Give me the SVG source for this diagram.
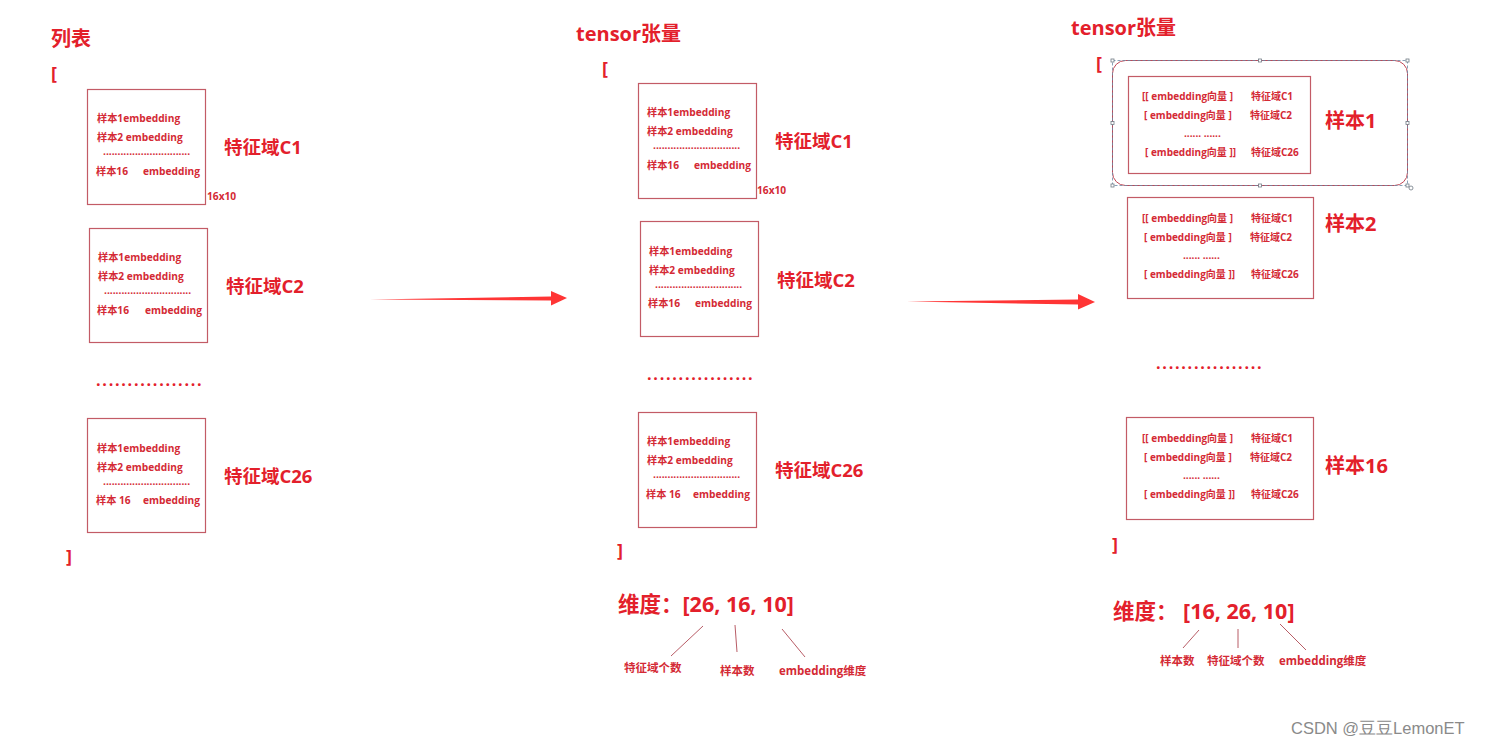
<svg xmlns="http://www.w3.org/2000/svg" width="1491" height="745" viewBox="0 0 1491 745">
<style>
text{font-family:"Open Sans","Noto Sans CJK SC",sans-serif;font-weight:bold;fill:#e3202b}
.title{font-size:20px}
.br{font-size:18px;font-weight:bold}
.lbl{font-size:18.5px}
.s{font-size:10.2px;fill:#d42a35}
.s2{font-size:10px;fill:#d42a35}
.dim{font-size:21.5px}
.ann{font-size:11.5px;fill:#d42a35}
.box{fill:#fff;stroke:#c35b66;stroke-width:1.2}
.dots{font-size:16px;letter-spacing:1.75px}
.wm{font-family:"Liberation Sans",sans-serif;font-weight:normal;font-size:16.5px;fill:#8a8a8a}
.ptr{stroke:#b04a55;stroke-width:0.9;fill:none}
.arr{fill:#ff3535}
.hdl{fill:#fff;stroke:#707a84;stroke-width:0.8}
</style>
<rect width="1491" height="745" fill="#fff"/>

<!-- Left column: list -->
<g id="left-title"><text class="title" x="51" y="46">列表</text><text class="br" x="51" y="80">[</text><text class="br" x="66" y="563">]</text></g>
<g id="left-c1">
<rect class="box" x="87.5" y="89.5" width="118" height="115"/>
<text class="s" x="97" y="122">样本1embedding</text>
<text class="s" x="97" y="141">样本2 embedding</text>
<text class="s" x="103" y="155">..............................</text>
<text class="s" x="96" y="175">样本16<tspan x="143">embedding</tspan></text>
<text class="lbl" x="224" y="154">特征域C1</text>
<text class="s" x="207" y="200">16x10</text>
</g>
<g id="left-c2">
<rect class="box" x="89.5" y="228.5" width="118" height="114"/>
<text class="s" x="98" y="261">样本1embedding</text>
<text class="s" x="98" y="280">样本2 embedding</text>
<text class="s" x="104" y="294">..............................</text>
<text class="s" x="97" y="314">样本16<tspan x="145">embedding</tspan></text>
<text class="lbl" x="226" y="293">特征域C2</text>
</g>
<g id="left-dots"><text class="dots" x="96" y="386">.................</text></g>
<g id="left-c26">
<rect class="box" x="87.5" y="418.5" width="118" height="114"/>
<text class="s" x="97" y="452">样本1embedding</text>
<text class="s" x="97" y="471">样本2 embedding</text>
<text class="s" x="103" y="485">..............................</text>
<text class="s" x="96" y="504">样本 16<tspan x="143">embedding</tspan></text>
<text class="lbl" x="224" y="483">特征域C26</text>
</g>

<!-- Middle column -->
<g id="mid-title"><text class="title" x="576" y="41">tensor张量</text><text class="br" x="602" y="75">[</text><text class="br" x="617" y="557">]</text></g>
<g id="mid-c1">
<rect class="box" x="638.5" y="83.5" width="118" height="115"/>
<text class="s" x="647" y="116">样本1embedding</text>
<text class="s" x="647" y="135">样本2 embedding</text>
<text class="s" x="653" y="149">..............................</text>
<text class="s" x="647" y="169">样本16<tspan x="694">embedding</tspan></text>
<text class="lbl" x="775" y="148">特征域C1</text>
<text class="s" x="757" y="194">16x10</text>
</g>
<g id="mid-c2">
<rect class="box" x="640.5" y="221.5" width="118" height="115"/>
<text class="s" x="649" y="255">样本1embedding</text>
<text class="s" x="649" y="274">样本2 embedding</text>
<text class="s" x="655" y="288">..............................</text>
<text class="s" x="648" y="307">样本16<tspan x="695">embedding</tspan></text>
<text class="lbl" x="777" y="287">特征域C2</text>
</g>
<g id="mid-dots"><text class="dots" x="647" y="380">.................</text></g>
<g id="mid-c26">
<rect class="box" x="638.5" y="412.5" width="118" height="115"/>
<text class="s" x="647" y="445">样本1embedding</text>
<text class="s" x="647" y="464">样本2 embedding</text>
<text class="s" x="653" y="478">..............................</text>
<text class="s" x="646" y="498">样本 16<tspan x="693">embedding</tspan></text>
<text class="lbl" x="775" y="477">特征域C26</text>
</g>
<g id="mid-dim">
<text class="dim" x="618" y="612">维度：[26, 16, 10]</text>
<text class="ann" x="624" y="672">特征域个数</text>
<text class="ann" x="720" y="675">样本数</text>
<text class="ann" x="779" y="675">embedding维度</text>
</g>

<!-- Right column -->
<g id="right-title"><text class="title" x="1071" y="35">tensor张量</text><text class="br" x="1096" y="70">[</text><text class="br" x="1112" y="551">]</text></g>
<g id="right-s1">
<rect x="1112.5" y="60.5" width="295" height="125" rx="13" fill="none" stroke="#c04856" stroke-width="1"/>
<rect x="1112.5" y="60.5" width="295" height="125" fill="none" stroke="#6a8aa6" stroke-width="0.8" stroke-dasharray="3,2"/>
<rect class="box" x="1128.5" y="76.5" width="182" height="97"/>
<text class="s2" x="1142" y="100">[[ embedding向量 ]</text>
<text class="s2" x="1251" y="100">特征域C1</text>
<text class="s2" x="1144" y="119">[ embedding向量 ]</text>
<text class="s2" x="1250" y="119">特征域C2</text>
<text class="s2" x="1184" y="137">...... ......</text>
<text class="s2" x="1145" y="156">[ embedding向量 ]]</text>
<text class="s2" x="1251" y="156">特征域C26</text>
<text class="title" x="1325" y="128">样本1</text>
<rect class="hdl" x="1111" y="59" width="3" height="3"/><rect class="hdl" x="1258.5" y="59" width="3" height="3"/><rect class="hdl" x="1406" y="59" width="3" height="3"/>
<rect class="hdl" x="1111" y="121.5" width="3" height="3"/><rect class="hdl" x="1406" y="121.5" width="3" height="3"/>
<rect class="hdl" x="1111" y="184" width="3" height="3"/><rect class="hdl" x="1258.5" y="184" width="3" height="3"/><rect class="hdl" x="1406" y="184" width="3" height="3"/>
<circle class="hdl" cx="1411" cy="188" r="2"/>
</g>
<g id="right-s2">
<rect class="box" x="1127.5" y="197.5" width="186" height="101"/>
<text class="s2" x="1142" y="222">[[ embedding向量 ]</text>
<text class="s2" x="1251" y="222">特征域C1</text>
<text class="s2" x="1144" y="241">[ embedding向量 ]</text>
<text class="s2" x="1250" y="241">特征域C2</text>
<text class="s2" x="1183" y="259">...... ......</text>
<text class="s2" x="1144" y="278">[ embedding向量 ]]</text>
<text class="s2" x="1251" y="278">特征域C26</text>
<text class="title" x="1325" y="231">样本2</text>
</g>
<g id="right-dots"><text class="dots" x="1156" y="369">.................</text></g>
<g id="right-s16">
<rect class="box" x="1126.5" y="417.5" width="187" height="102"/>
<text class="s2" x="1142" y="442">[[ embedding向量 ]</text>
<text class="s2" x="1251" y="442">特征域C1</text>
<text class="s2" x="1144" y="461">[ embedding向量 ]</text>
<text class="s2" x="1250" y="461">特征域C2</text>
<text class="s2" x="1183" y="479">...... ......</text>
<text class="s2" x="1144" y="498">[ embedding向量 ]]</text>
<text class="s2" x="1251" y="498">特征域C26</text>
<text class="title" x="1325" y="473">样本16</text>
</g>
<g id="right-dim">
<text class="dim" x="1113" y="619">维度： [16, 26, 10]</text>
<text class="ann" x="1160" y="665">样本数</text>
<text class="ann" x="1207" y="665">特征域个数</text>
<text class="ann" x="1279" y="665">embedding维度</text>
</g>

<g id="connectors">
<polygon class="arr" points="370,299.5 551,296.5 551,291 567,298 551,305.5 551,300.5"/>
<polygon class="arr" points="907,301.5 1078,299.5 1078,294 1095,302 1078,309.5 1078,304.5"/>
<line class="ptr" x1="703" y1="626" x2="671" y2="656"/>
<line class="ptr" x1="735" y1="625" x2="737" y2="652"/>
<line class="ptr" x1="782" y1="629" x2="805" y2="657"/>
<line class="ptr" x1="1199" y1="630" x2="1183" y2="648"/>
<line class="ptr" x1="1238" y1="629" x2="1238" y2="648"/>
<line class="ptr" x1="1280" y1="624" x2="1306" y2="650"/>
</g>

<g id="watermark"><text class="wm" x="1291" y="734">CSDN @豆豆LemonET</text></g>
</svg>
